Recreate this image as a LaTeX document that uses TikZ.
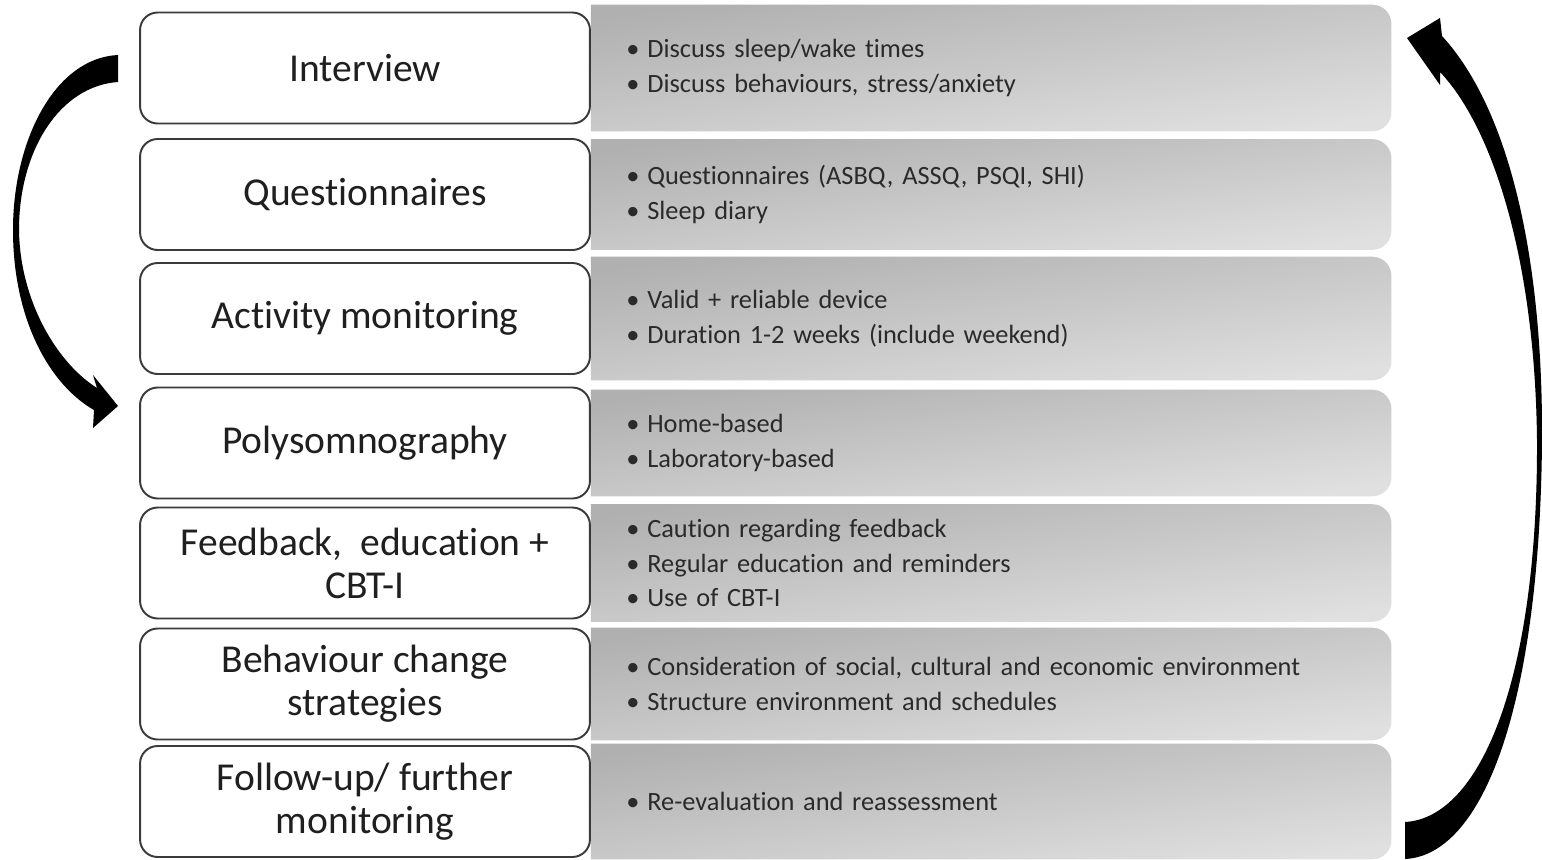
\documentclass[tikz,border=0pt]{standalone}
\usepackage{fontspec}
\setmainfont[Ligatures=NoCommon]{Carlito}
\usetikzlibrary{positioning,backgrounds}
\definecolor{boxline}{HTML}{3A3A3A}
\definecolor{paneltop}{HTML}{B0B0B0}
\definecolor{panelbottom}{HTML}{E0E0E0}
\definecolor{paneltext}{HTML}{2A2A2A}
\newcommand{\itm}{\makebox[0.8em][l]{\textbullet}}
\tikzset{
  stepbox/.style={draw=boxline, line width=1.1pt, rounded corners=10pt, fill=white, minimum width=9cm, minimum height=2.22cm, font=\fontsize{22.5}{24.5}\selectfont, text=black!88, align=center},
  infopanel/.style={text width=14.6cm, inner xsep=0.7cm, inner ysep=0pt, minimum height=#1, font=\fontsize{15}{19.8}\selectfont, text=paneltext, align=left},
  panelshade/.style={top color=paneltop, bottom color=panelbottom, shading angle=8}
}

\begin{document}
\begin{tikzpicture}[x=0.02cm, y=-0.02cm]
  \useasboundingbox (0,0) rectangle (1542,859);
  % steps on the left
  \node[stepbox] (interview) at (365,68) {Interview};
  \node[stepbox] (questionnaires) at (365,194.5) {Questionnaires};
  \node[stepbox] (activity) at (365,318.5) {Activity monitoring};
  \node[stepbox] (polysom) at (365,443) {Polysomnography};
  \node[stepbox] (feedback) at (365,563) {Feedback,~ education +\\CBT-I};
  \node[stepbox] (behaviour) at (365,684) {Behaviour change\\strategies};
  \node[stepbox] (followup) at (365,801.5) {Follow-up/ further\\monitoring};
  % details for each step
  \node[infopanel=2.52cm, right=0pt of interview] (interviewinfo) {\itm Discuss sleep/wake times\\\itm Discuss behaviours, stress/anxiety};
  \node[infopanel=2.2cm, right=0pt of questionnaires] (questionnairesinfo) {\itm Questionnaires (ASBQ, ASSQ, PSQI, SHI)\\\itm Sleep diary};
  \node[infopanel=2.46cm, right=0pt of activity] (activityinfo) {\itm Valid + reliable device\\\itm Duration 1-2 weeks (include weekend)};
  \node[infopanel=2.12cm, right=0pt of polysom] (polysominfo) {\itm Home-based\\\itm Laboratory-based};
  \node[infopanel=2.34cm, right=0pt of feedback] (feedbackinfo) {\itm Caution regarding feedback\\\itm Regular education and reminders\\\itm Use of CBT-I};
  \node[infopanel=2.24cm, right=0pt of behaviour] (behaviourinfo) {\itm Consideration of social, cultural and economic environment\\\itm Structure environment and schedules};
  \node[infopanel=2.3cm, right=0pt of followup] (followupinfo) {\itm Re-evaluation and reassessment};
  \begin{scope}[on background layer]
    \foreach \p in {interviewinfo,questionnairesinfo,activityinfo,polysominfo,feedbackinfo,behaviourinfo,followupinfo}
      \path[panelshade] (\p.south west) -- (\p.north west) [rounded corners=11pt] -- (\p.north east) -- (\p.south east) [sharp corners] -- cycle;
  \end{scope}
  % cycle arrows
  \coordinate (downstart) at (118,68);
  \coordinate (downtip) at (118,406);
  \fill (118,55) .. controls (55,58) and (13,140) .. (13,230) .. controls (13,320) and (50,385) .. (94,410) -- (93,428) -- (downtip) -- (93,375) -- (97,388) .. controls (56,362) and (20,300) .. (19,230) .. controls (19,150) and (60,86) .. (118,82) -- cycle;
  \coordinate (upstart) at (1405,840);
  \coordinate (uptip) at (1407,38);
  \fill (1405,859) .. controls (1485,855) and (1540,700) .. (1542,440) .. controls (1543,260) and (1510,110) .. (1442,36) -- (1440,18) -- (uptip) -- (1440,85) -- (1440,72) .. controls (1493,128) and (1535,260) .. (1537,440) .. controls (1538,680) and (1480,818) .. (1405,822) -- cycle;
\end{tikzpicture}
\end{document}
